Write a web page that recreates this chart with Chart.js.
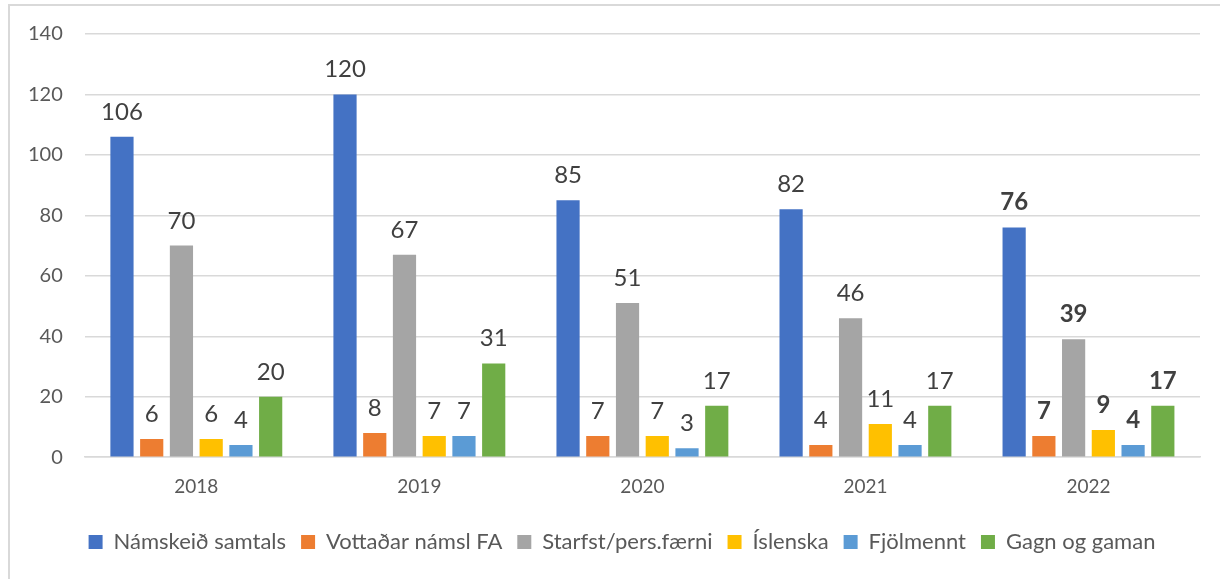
<!DOCTYPE html>
<html>
<head>
<meta charset="utf-8">
<script src="https://cdn.jsdelivr.net/npm/chart.js@4"></script>
<style>
  html, body { margin: 0; padding: 0; background: #fff; overflow: hidden; }
  #frame { position: absolute; left: 8px; top: 4px; width: 1300px; height: 700px;
           border-top: 2px solid #d9d9d9; border-left: 2px solid #d9d9d9; }
  #wrap { position: absolute; left: 0; top: 0; width: 1220px; height: 579px; }
</style>
</head>
<body>
<div id="frame"></div>
<div id="wrap"><canvas id="chart"></canvas></div>
<script>
const years = ['2018', '2019', '2020', '2021', '2022'];
const seriesNames = ['Námskeið samtals', 'Vottaðar námsl FA', 'Starfst/pers.færni', 'Íslenska', 'Fjölmennt', 'Gagn og gaman'];
const namskeid = [106, 120, 85, 82, 76];
const vottadar = [6, 8, 7, 4, 7];
const starfst = [70, 67, 51, 46, 39];
const islenska = [6, 7, 7, 11, 9];
const fjolmennt = [4, 7, 3, 4, 4];
const gagn = [20, 31, 17, 17, 17];
const yTicks = [0, 20, 40, 60, 80, 100, 120, 140];

const colors = ['#4472C4', '#ED7D31', '#A5A5A5', '#FFC000', '#5B9BD5', '#70AD47'];
const allData = [namskeid, vottadar, starfst, islenska, fjolmennt, gagn];
const fontFamily = 'Lato, "Open Sans", sans-serif';

// draws the numbers above each bar, last year in bold
const barLabels = {
    id: 'barLabels',
    afterDatasetsDraw(chart) {
        const ctx = chart.ctx;
        ctx.save();
        ctx.fillStyle = '#404040';
        ctx.textAlign = 'center';
        ctx.textBaseline = 'alphabetic';
        chart.data.datasets.forEach((ds, i) => {
            chart.getDatasetMeta(i).data.forEach((bar, j) => {
                const bold = j === years.length - 1 ? 'bold ' : '';
                ctx.font = bold + '24px ' + fontFamily;
                ctx.fillText(ds.data[j], bar.x, bar.y - 17);
            });
        });
        ctx.restore();
    }
};

// nudge legend a bit to the right, like the original
const legendShift = {
    id: 'legendShift',
    afterLayout(chart) {
        chart.legend.left += 19;
        chart.legend.right += 19;
    }
};

new Chart(document.getElementById('chart'), {
    type: 'bar',
    data: {
        labels: years,
        datasets: seriesNames.map((name, i) => ({
            label: name,
            data: allData[i],
            backgroundColor: colors[i],
            categoryPercentage: 0.8,
            barPercentage: 0.78
        }))
    },
    options: {
        responsive: true,
        maintainAspectRatio: false,
        animation: false,
        layout: { padding: { top: 24, right: 20, left: 6, bottom: 16 } },
        plugins: {
            legend: {
                position: 'bottom',
                labels: {
                    boxWidth: 14,
                    boxHeight: 14,
                    padding: 15,
                    color: '#595959',
                    font: { size: 22, family: fontFamily }
                }
            },
            tooltip: { enabled: false }
        },
        scales: {
            y: {
                min: 0,
                max: 140,
                afterBuildTicks: axis => { axis.ticks = yTicks.map(v => ({ value: v })); },
                grid: { color: '#d9d9d9', lineWidth: 1.5, drawTicks: false },
                border: { display: false },
                ticks: { color: '#595959', padding: 22, font: { size: 20, family: fontFamily } }
            },
            x: {
                grid: { display: false, drawTicks: false },
                border: { display: true, color: '#d9d9d9', width: 1.5 },
                ticks: { color: '#595959', padding: 18, font: { size: 19, family: fontFamily } }
            }
        }
    },
    plugins: [barLabels, legendShift]
});
</script>
</body>
</html>
